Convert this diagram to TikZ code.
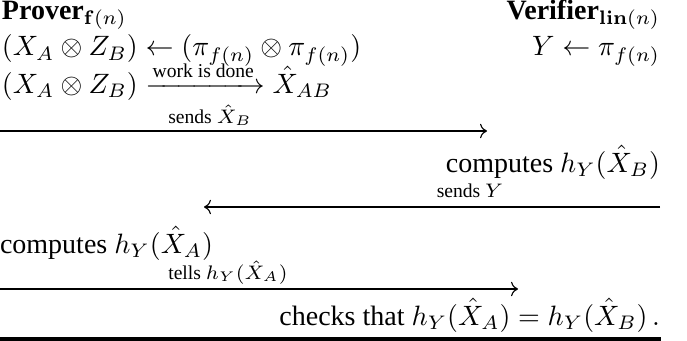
\documentclass[tikz,border=0pt]{standalone}
\usepackage{amsmath}
\usepackage[no-math]{fontspec}
\setmainfont{Liberation Serif}
\usetikzlibrary{arrows.meta}
\begin{document}
\begin{tikzpicture}[x=0.357pt,y=-0.357pt,
  every node/.style={inner sep=0pt, outer sep=0pt, font=\fontsize{10pt}{12pt}\selectfont},
  lbl/.style={font=\scriptsize},
  msg/.style={line width=0.4pt, -{Computer Modern Rightarrow}},
  rulebar/.style={fill=black, draw=none}]
\useasboundingbox (0,0) rectangle (687,341);
\node[anchor=base west] (prover) at (2,19) {\textbf{Prover}$_{\mathbf{f}(n)}$};
\node[anchor=base east] (verifier) at (660,19) {\textbf{Verifier}$_{\mathbf{lin}(n)}$};
\node[anchor=base west] (pinit) at (2,56) {$(X_A\otimes Z_B)\leftarrow(\pi_{f(n)}\otimes\pi_{f(n)})$};
\node[anchor=base east] (vinit) at (660,56) {$Y\leftarrow\pi_{f(n)}$};
\node[anchor=base west] (pwork) at (2,93) {$(X_A\otimes Z_B)\xrightarrow{\text{work is done}}\hat{X}_{AB}$};
\node[lbl, anchor=base] (l1) at (210,123) {sends $\hat{X}_B$};
\coordinate (a1s) at (0,131);
\coordinate (a1e) at (487,131);
\draw[msg] (a1s) -- (a1e);
\node[anchor=base east] (vcomp) at (660,172) {computes $h_Y(\hat{X}_B)$};
\node[lbl, anchor=base] (l2) at (470,197) {sends $Y$};
\coordinate (a2s) at (660,207);
\coordinate (a2e) at (204,207);
\draw[msg] (a2s) -- (a2e);
\node[anchor=base west] (pcomp) at (0,253) {computes $h_Y(\hat{X}_A)$};
\node[lbl, anchor=base] (l3) at (228,279) {tells $h_Y(\hat{X}_A)$};
\coordinate (a3s) at (0,289);
\coordinate (a3e) at (518,289);
\draw[msg] (a3s) -- (a3e);
\node[anchor=base east] (vcheck) at (660,325) {checks that $h_Y(\hat{X}_A)=h_Y(\hat{X}_B)\,.$};
\coordinate (r1) at (0,337);
\coordinate (r2) at (661,341);
\fill[rulebar] (r1) rectangle (r2);
\end{tikzpicture}
\end{document}
